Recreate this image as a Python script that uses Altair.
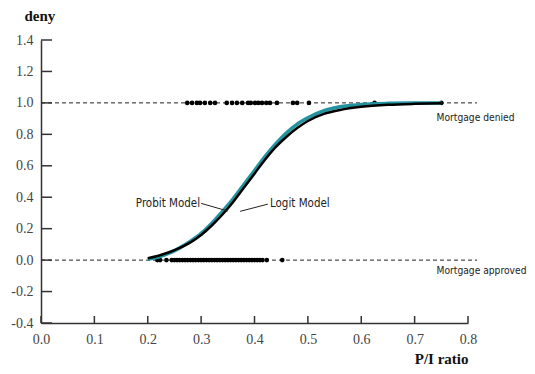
import altair as alt
import pandas as pd

# ---- data ----
curve_x = [0.20, 0.22, 0.24, 0.26, 0.28, 0.30, 0.32, 0.34, 0.36, 0.38, 0.40,
           0.42, 0.44, 0.46, 0.48, 0.50, 0.53, 0.56, 0.60, 0.65, 0.70, 0.75]
logit_y = [0.012, 0.028, 0.05, 0.078, 0.113, 0.16, 0.22, 0.29, 0.37, 0.46, 0.55,
           0.64, 0.72, 0.785, 0.84, 0.885, 0.93, 0.955, 0.975, 0.988, 0.994, 0.997]
probit_y = [0.005, 0.02, 0.044, 0.078, 0.12, 0.17, 0.235, 0.31, 0.39, 0.48, 0.57,
            0.66, 0.74, 0.81, 0.865, 0.905, 0.95, 0.975, 0.99, 0.997, 0.999, 1.0]

denied_x = [0.274, 0.283, 0.292, 0.298, 0.307, 0.317, 0.326, 0.348, 0.358, 0.367,
            0.377, 0.388, 0.393, 0.401, 0.407, 0.414, 0.422, 0.429, 0.442, 0.472,
            0.480, 0.502, 0.625, 0.750]
approved_x = [0.218, 0.223, 0.235, 0.245, 0.25, 0.255, 0.26, 0.265, 0.27, 0.275,
              0.28, 0.285, 0.29, 0.295, 0.30, 0.305, 0.31, 0.315, 0.32, 0.325,
              0.33, 0.335, 0.34, 0.345, 0.35, 0.355, 0.36, 0.365, 0.37, 0.375,
              0.38, 0.385, 0.39, 0.395, 0.40, 0.405, 0.41, 0.415, 0.423, 0.452]

x_ticks = [0.0, 0.1, 0.2, 0.3, 0.4, 0.5, 0.6, 0.7, 0.8]
y_ticks = [-0.4, -0.2, 0.0, 0.2, 0.4, 0.6, 0.8, 1.0, 1.2, 1.4]

ann_text = ["Probit Model", "Logit Model", "Mortgage denied", "Mortgage approved"]
ann_x = [0.298, 0.429, 0.741, 0.741]
ann_y = [0.354, 0.354, 0.905, -0.07]
ann_kind = ["probit", "logit", "side", "side"]

leader_x = [0.300, 0.350, 0.373, 0.425]
leader_y = [0.361, 0.312, 0.310, 0.356]
leader_id = ["p", "p", "l", "l"]

# ---- tables ----
curves = pd.DataFrame({
    "x": curve_x * 2,
    "y": probit_y + logit_y,
    "model": ["Probit"] * len(curve_x) + ["Logit"] * len(curve_x),
})
dots = pd.DataFrame({
    "x": denied_x + approved_x,
    "y": [1.0] * len(denied_x) + [0.0] * len(approved_x),
})
ann = pd.DataFrame({"t": ann_text, "x": ann_x, "y": ann_y, "k": ann_kind})
leaders = pd.DataFrame({"x": leader_x, "y": leader_y, "id": leader_id})
xt = pd.DataFrame({"x": x_ticks})
yt = pd.DataFrame({"y": y_ticks})
hlines = pd.DataFrame({"y": [1.0, 0.0]})

W, H = 427, 283
xs = alt.Scale(domain=[0, 0.8], nice=False, zero=False)
ys = alt.Scale(domain=[-0.4, 1.4], nice=False, zero=False)

serif = "Liberation Serif"
narrow = "DejaVu Sans Condensed"

x_axis = alt.Axis(
    values=x_ticks, format=".1f", tickSize=0, grid=False, labelOverlap=False,
    labelFlush=False,
    labelFont=serif, labelFontSize=14, labelColor="#444", labelPadding=9,
    domainColor="#333", domainWidth=1.5,
    title="P/I ratio", titleFont=serif, titleFontSize=15, titleFontWeight="bold",
    titleColor="#111", titleX=W, titleY=40, titleAlign="right",
    titleBaseline="alphabetic",
)
y_axis = alt.Axis(
    values=y_ticks, tickSize=0, grid=False, labelOverlap=False,
    labelExpr="datum.value < 0 ? '-' + format(-datum.value, '.1f') : format(datum.value, '.1f')",
    labelFont=serif, labelFontSize=14, labelColor="#444", labelPadding=8,
    domainColor="#333", domainWidth=1.5,
    title="deny", titleFont=serif, titleFontSize=15, titleFontWeight="bold",
    titleColor="#111", titleAngle=0, titleX=-17, titleY=-20, titleAlign="left",
    titleBaseline="alphabetic",
)


def X(f="x:Q"):
    return alt.X(f, scale=xs, axis=x_axis)


def Y(f="y:Q"):
    return alt.Y(f, scale=ys, axis=y_axis)


dash = alt.Chart(hlines).mark_rule(color="#222", strokeDash=[4, 3], strokeWidth=1).encode(
    y=Y(), x=alt.value(0), x2=alt.value(436),
)

xtick = alt.Chart(xt).mark_rule(color="#333", strokeWidth=1.5).encode(
    x=X(), y=alt.value(H), y2=alt.value(H - 7),
)
ytick = alt.Chart(yt).mark_rule(color="#333", strokeWidth=1.5).encode(
    y=Y(), x=alt.value(0), x2=alt.value(11),
)

pts = alt.Chart(dots).mark_circle(color="#000", opacity=1, size=22).encode(x=X(), y=Y())

probit = alt.Chart(curves).transform_filter(alt.datum.model == "Probit").mark_line(
    color="#23939f", strokeWidth=3.5, interpolate="monotone"
).encode(x=X(), y=Y())
logit = alt.Chart(curves).transform_filter(alt.datum.model == "Logit").mark_line(
    color="#000", strokeWidth=2.5, interpolate="monotone"
).encode(x=X(), y=Y())

lead = alt.Chart(leaders).mark_line(color="#222", strokeWidth=1).encode(
    x=X(), y=Y(), detail="id:N",
)


def txt(kind, align, size):
    return alt.Chart(ann).transform_filter(alt.datum.k == kind).mark_text(
        align=align, baseline="middle", font=narrow, fontSize=size, color="#222"
    ).encode(x=X(), y=Y(), text="t:N")


chart = alt.layer(
    dash, xtick, ytick, pts, probit, logit, lead,
    txt("probit", "right", 11.5), txt("logit", "left", 11.5), txt("side", "left", 10.2),
).properties(
    width=W, height=H,
    autosize=alt.AutoSizeParams(type="none"),
    padding={"left": 33, "top": 32, "right": 59, "bottom": 43},
).configure(background="white").configure_view(stroke=None)

chart.save("out.html", embed_options={"renderer": "svg", "actions": False})
